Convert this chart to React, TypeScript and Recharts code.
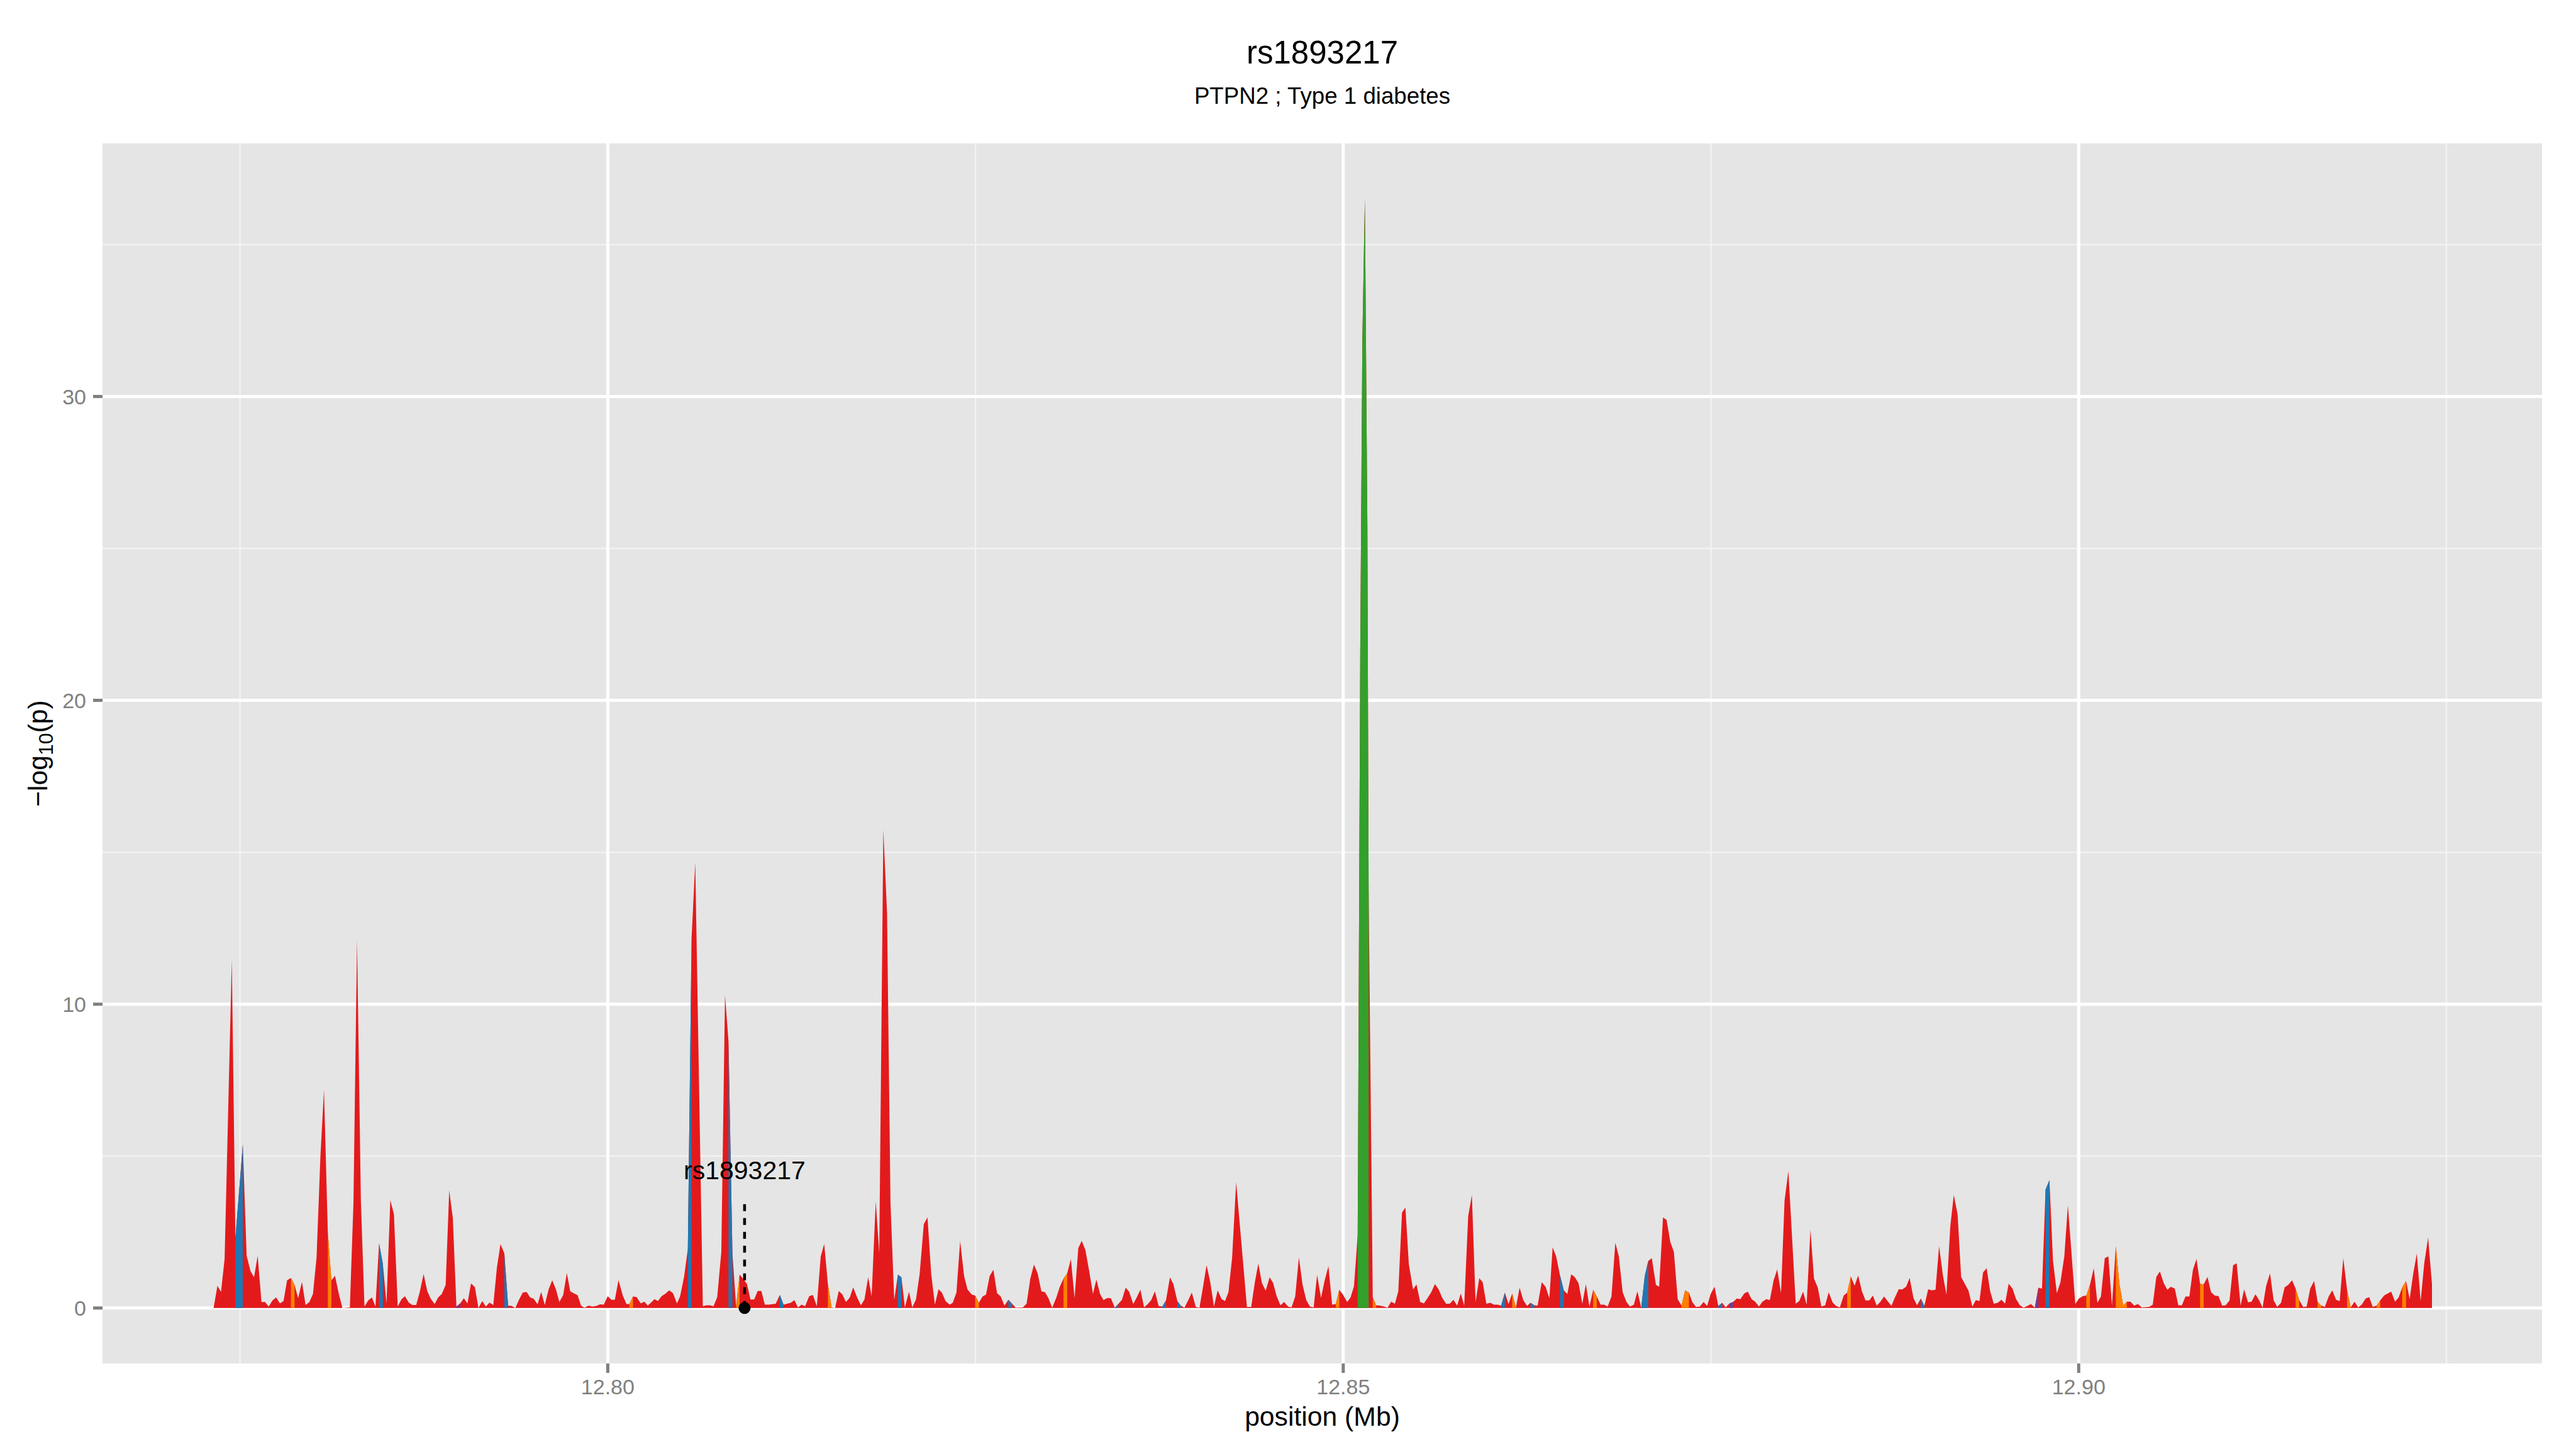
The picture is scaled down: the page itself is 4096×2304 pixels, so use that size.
import React from 'react';
import { ComposedChart, Area, XAxis, YAxis, CartesianGrid, ReferenceLine, ReferenceDot } from 'recharts';

const W = 4096;
const H = 2304;
const FONT = '"Liberation Sans", Arial, Helvetica, sans-serif';

// SNP positions (bp) along chr18
const snpPos = [
  12773202, 12773463, 12773707, 12773951, 12774440, 12774684, 12775188, 12775449, 12775709, 12775954,
  12776198, 12776458, 12776702, 12776947, 12777207, 12777451, 12777712, 12777956, 12778200, 12778461,
  12778705, 12778949, 12779210, 12779454, 12779714, 12779958, 12780203, 12780463, 12780707, 12780968,
  12781212, 12781456, 12781717, 12781961, 12782466, 12782710, 12782954, 12783214, 12783459, 12783719,
  12783963, 12784208, 12784452, 12784712, 12784956, 12785217, 12785461, 12785722, 12785966, 12786210,
  12786470, 12786715, 12786975, 12787219, 12787480, 12787724, 12787968, 12788229, 12788473, 12788717,
  12788978, 12789222, 12789466, 12789710, 12789971, 12790215, 12790459, 12790703, 12790964, 12791208,
  12791468, 12791713, 12791957, 12792217, 12792461, 12792706, 12792966, 12793227, 12793471, 12793715,
  12793976, 12794220, 12794480, 12794724, 12794969, 12795229, 12795473, 12795717, 12795978, 12796222,
  12796466, 12796711, 12796971, 12797216, 12797448, 12797680, 12797950, 12798182, 12798413, 12798703,
  12798954, 12799224, 12799475, 12799726, 12799997, 12800248, 12800480, 12800731, 12801020, 12801271,
  12801464, 12801715, 12801966, 12802237, 12802488, 12802720, 12802926, 12803177, 12803409, 12803660,
  12803891, 12804181, 12804432, 12804702, 12804915, 12805185, 12805444, 12805696, 12805947, 12806463,
  12806701, 12806952, 12807189, 12807441, 12807720, 12807971, 12808208, 12808474, 12808725, 12808962,
  12809214, 12809465, 12809702, 12809953, 12810191, 12810442, 12810679, 12810931, 12811419, 12811698,
  12811950, 12812438, 12812689, 12812927, 12813178, 12813415, 12813694, 12813946, 12814211, 12814476,
  12814714, 12814965, 12815216, 12815454, 12815705, 12815942, 12816194, 12816445, 12816682, 12816961,
  12817212, 12817450, 12817701, 12817939, 12818218, 12818456, 12818735, 12818986, 12819220, 12819474,
  12819725, 12819962, 12820200, 12820479, 12820702, 12820954, 12821205, 12821485, 12821736, 12821987,
  12822238, 12822490, 12822713, 12822964, 12823243, 12823452, 12823704, 12823955, 12824225, 12824456,
  12824746, 12824978, 12825229, 12825480, 12825712, 12825963, 12826214, 12826465, 12826716, 12826967,
  12827237, 12827488, 12827739, 12828222, 12828473, 12828724, 12828975, 12829226, 12829477, 12829728,
  12829960, 12830211, 12830481, 12830732, 12830983, 12831234, 12831485, 12831736, 12831988, 12832219,
  12832470, 12832735, 12832986, 12833218, 12833469, 12833701, 12833952, 12834203, 12834473, 12834705,
  12834956, 12835207, 12835439, 12835728, 12835960, 12836211, 12836462, 12836713, 12836945, 12837196,
  12837447, 12837698, 12837949, 12838219, 12838451, 12838721, 12838953, 12839204, 12839455, 12839706,
  12839976, 12840227, 12840459, 12840710, 12840961, 12841212, 12841463, 12841734, 12841965, 12842197,
  12842448, 12842718, 12843452, 12843742, 12843993, 12844225, 12844476, 12844727, 12844997, 12845229,
  12845480, 12845731, 12845982, 12846252, 12846484, 12846735, 12846986, 12847237, 12847488, 12847739,
  12847990, 12848222, 12848492, 12848724, 12848994, 12849245, 12849496, 12849728, 12849979, 12850269,
  12850500, 12850732, 12850983, 12851155, 12851301, 12851471, 12851642, 12851727, 12852006, 12852238,
  12852489, 12852779, 12853011, 12853262, 12853513, 12853744, 12853995, 12854227, 12854459, 12854749,
  12854980, 12855231, 12855482, 12855733, 12855984, 12856235, 12856487, 12856718, 12856989, 12857240,
  12857491, 12857742, 12857993, 12858224, 12858495, 12858746, 12858997, 12859248, 12859480, 12859731,
  12860001, 12860252, 12860503, 12860735, 12860986, 12861237, 12861488, 12861739, 12861990, 12862241,
  12862494, 12862734, 12862994, 12863214, 12863494, 12863755, 12864015, 12864235, 12864475, 12864735,
  12864995, 12865235, 12865496, 12865736, 12865996, 12866256, 12866496, 12866736, 12866996, 12867237,
  12867497, 12867737, 12867977, 12868237, 12868497, 12868737, 12868998, 12869258, 12869498, 12869758,
  12869998, 12870258, 12870498, 12870738, 12870978, 12871259, 12871479, 12871739, 12871979, 12872239,
  12872479, 12872739, 12872999, 12873239, 12873499, 12873740, 12873980, 12874240, 12874500, 12874740,
  12874980, 12875240, 12875501, 12875761, 12876001, 12876261, 12876501, 12876761, 12877001, 12877262,
  12877502, 12877762, 12878002, 12878262, 12878502, 12878762, 12879002, 12879262, 12879503, 12879763,
  12880003, 12880263, 12880764, 12881004, 12881264, 12881504, 12881764, 12882004, 12882264, 12882505,
  12882765, 12883005, 12883265, 12883505, 12883765, 12884025, 12884265, 12884506, 12884766, 12885006,
  12885266, 12885506, 12885766, 12886006, 12886266, 12886506, 12886766, 12887006, 12887267, 12887507,
  12887767, 12888007, 12888267, 12888507, 12888767, 12889007, 12889267, 12889508, 12889768, 12890008,
  12890268, 12890508, 12890768, 12891008, 12891268, 12891508, 12891768, 12892008, 12892268, 12892508,
  12892769, 12893009, 12893254, 12893497, 12893740, 12893983, 12894226, 12894489, 12894752, 12894995,
  12895238, 12895501, 12895744, 12896007, 12896250, 12896513, 12896756, 12897019, 12897262, 12897505,
  12897747, 12898010, 12898253, 12898516, 12898759, 12899022, 12899265, 12899771, 12900014, 12900277,
  12900520, 12900763, 12901026, 12901269, 12901512, 12901775, 12902018, 12902261, 12902524, 12902767,
  12903030, 12903273, 12903516, 12903779, 12904022, 12904285, 12904791, 12905034, 12905277, 12905519,
  12905783, 12906026, 12906268, 12906532, 12906774, 12907017, 12907260, 12907523, 12907766, 12908009,
  12908252, 12908495, 12908758, 12909001, 12909244, 12909507, 12909750, 12909992, 12910256, 12910499,
  12910742, 12911005, 12911248, 12911510, 12911753, 12912017, 12912259, 12912502, 12912745, 12913008,
  12913251, 12913494, 12913757, 12914000, 12914243, 12914506, 12914749, 12914992, 12915255, 12915498,
  12915741, 12916004, 12916247, 12916490, 12916733, 12916996, 12917238, 12917501, 12917744, 12917987,
  12918250, 12918493, 12918756, 12918999, 12919242, 12919505, 12919748, 12919991, 12920254, 12920497,
  12920760, 12921003, 12921245, 12921508, 12921751, 12921994, 12922257, 12922500, 12922743, 12922986,
  12923249, 12923492, 12923755, 12924017,
];

// -log10(p) at each position
const snpLogP = [
  0, 0.73, 0.53, 1.62, 11.47, 2.3, 5.39, 1.72, 1.22, 1.01,
  1.72, 0.2, 0.2, 0.05, 0.25, 0.35, 0.15, 0.23, 0.91, 0.99,
  0.76, 0.32, 0.86, 0.1, 0.2, 0.46, 1.67, 4.97, 7.18, 2.48,
  0.91, 1.06, 0.46, 0, 0.02, 3.45, 12.11, 3.55, 0.05, 0.25,
  0.35, 0.05, 2.13, 1.44, 0.15, 3.55, 3.09, 0.05, 0.28, 0.39,
  0.18, 0.1, 0.1, 0.53, 1.12, 0.56, 0.3, 0.13, 0.35, 0.46,
  0.76, 3.87, 2.96, 0.05, 0.15, 0.32, 0.15, 0.81, 0.69, 0,
  0.23, 0.05, 0.18, 0.1, 1.32, 2.1, 1.8, 0.08, 0.07, 0,
  0.28, 0.51, 0.53, 0.35, 0.3, 0.12, 0.53, 0.1, 0.61, 0.91,
  0.63, 0.2, 0.43, 1.15, 0.55, 0.49, 0.42, 0.08, 0.01, 0.08,
  0.05, 0.07, 0.12, 0.11, 0.39, 0.27, 0.27, 0.92, 0.41, 0.13,
  0.13, 0.38, 0.36, 0.15, 0.21, 0.08, 0.17, 0.29, 0.23, 0.39,
  0.46, 0.58, 0.49, 0.15, 0.38, 1.02, 1.94, 12.16, 14.66, 0.06,
  0.09, 0.09, 0.06, 0.36, 1.85, 10.3, 8.78, 1.8, 0.06, 1.1,
  0.96, 0.79, 0.28, 0.28, 0.56, 0.56, 0.11, 0.11, 0.14, 0.43,
  0.11, 0.17, 0.26, 0.02, 0.11, 0.06, 0.39, 0.43, 0.06, 1.69,
  2.11, 0.79, 0.02, 0, 0.56, 0.45, 0.2, 0.34, 0.68, 0.34,
  0.09, 0.28, 1.01, 0.39, 3.51, 1.8, 15.74, 13, 3.47, 0.26,
  1.1, 1.01, 0.02, 0.54, 0.02, 0.28, 1.13, 2.76, 2.98, 1.13,
  0.11, 0.62, 0.51, 0.23, 0.11, 0.17, 0.51, 2.2, 1.05, 0.61,
  0.44, 0.41, 0.17, 0.38, 0.44, 1.05, 1.26, 0.49, 0.38, 0.08,
  0.27, 0.14, 0.01, 0.02, 0.14, 0.96, 1.43, 1.14, 0.55, 0.52,
  0.32, 0.01, 0.32, 0.7, 0.97, 1.14, 1.61, 0.32, 1.97, 2.21,
  1.91, 1.2, 0.46, 0.94, 0.46, 0.26, 0.33, 0.32, 0.01, 0.13,
  0.27, 0.67, 0.54, 0.13, 0.35, 0.6, 0.02, 0.13, 0.26, 0.55,
  0.07, 0.05, 0.25, 1.01, 0.79, 0.23, 0.08, 0.01, 0.25, 0.51,
  0.04, 0.01, 0.67, 1.41, 0.85, 0.05, 0.58, 0.29, 0.23, 0.52,
  1.67, 4.14, 0.04, 0.04, 0.85, 1.46, 0.82, 0.57, 1.01, 0.83,
  0.38, 0.09, 0.2, 0.05, 0.02, 0.38, 1.67, 0.76, 0.26, 0.05,
  0.02, 1.09, 0.33, 0.88, 1.38, 0.11, 0.13, 0.6, 0.44, 0.2,
  0.35, 0.72, 2.4, 21.5, 31.9, 36.5, 25.6, 13.7, 0.36, 0.09,
  0.08, 0.05, 0.01, 0.21, 0.14, 0.55, 3.14, 3.31, 1.44, 0.61,
  0.78, 0.2, 0.15, 0.33, 0.52, 0.79, 0.61, 0.35, 0.14, 0.14,
  0.27, 0.08, 0.48, 0.08, 3.02, 3.72, 0.2, 0.98, 0.85, 0.14,
  0.17, 0.11, 0.11, 0.08, 0.51, 0.13, 0.48, 0.01, 0.67, 0.26,
  0.07, 0.17, 0.09, 0.08, 0.85, 0.7, 0.32, 2, 1.7, 1.08,
  0.58, 0.46, 1.11, 1.02, 0.82, 0.14, 0.79, 0.05, 0.6, 0.38,
  0.11, 0.11, 0.05, 0.38, 2.15, 1.7, 0.52, 0.2, 0.05, 0.11,
  0.55, 0.01, 1.05, 1.55, 1.64, 0.76, 0.7, 2.98, 2.9, 2.17,
  1.85, 0.29, 0.08, 0.58, 0.51, 0.19, 0.04, 0.05, 0.2, 0.07,
  0.46, 0.7, 0.07, 0.17, 0.02, 0.15, 0.2, 0.31, 0.29, 0.48,
  0.54, 0.29, 0.21, 0.05, 0.21, 0.29, 0.26, 0.91, 1.27, 0.49,
  3.53, 4.51, 0.14, 0.23, 0.54, 0.11, 2.58, 0.97, 0.67, 0.05,
  0.09, 0.52, 0.19, 0.07, 0.02, 0.41, 0.51, 1.04, 0.73, 1.07,
  0.55, 0.25, 0.25, 0.41, 0.08, 0.2, 0.38, 0.23, 0.07, 0.35,
  0.62, 0.61, 0.7, 0.99, 0.33, 0.09, 0.31, 0.07, 0.62, 0.58,
  0.6, 2.04, 1.08, 0.44, 2.67, 3.72, 3.08, 1.02, 0.79, 0.57,
  0.05, 0.26, 0.23, 1.17, 1.31, 0.55, 0.14, 0.17, 0.27, 0.14,
  0.8, 0.64, 0.29, 0.09, 0.01, 0.07, 0.13, 0.01, 0.67, 0.64,
  3.9, 4.21, 1.55, 0.49, 0.85, 1.7, 3.38, 0.13, 0.31, 0.39,
  0.41, 0.76, 1.31, 0.17, 0.38, 1.64, 1.7, 0.08, 2.04, 0.79,
  0.08, 0.21, 0.21, 0.08, 0.13, 0.02, 0.04, 0.11, 1.02, 1.2,
  0.82, 0.6, 0.7, 0.64, 0.09, 0.09, 0.38, 0.38, 1.26, 1.61,
  0.8, 0.78, 1.02, 0.52, 0.41, 0.39, 0.08, 0.09, 0.25, 1.41,
  1.47, 0.08, 0.61, 0.19, 0.21, 0.45, 0.26, 0.01, 0.73, 1.14,
  0.26, 0.04, 0.17, 0.68, 0.76, 0.91, 0.64, 0.26, 0.04, 0.05,
  0.64, 0.89, 0.2, 0.08, 0.04, 0.38, 0.58, 0.27, 0.23, 1.64,
  0.58, 0.02, 0.21, 0.02, 0.11, 0.31, 0.36, 0.04, 0.08, 0.25,
  0.41, 0.48, 0.54, 0.21, 0.35, 0.68, 0.89, 0.29, 1.13, 1.79,
  0.23, 1.47, 2.32, 0.79,
];

// segments that are not red: each entry is the SNP where the segment starts,
// it runs to the next SNP
const blueStarts = [
  12774684, 12784452, 12792966, 12805444, 12808208, 12811698, 12819725, 12827237, 12834473, 12837698,
  12838721, 12860735, 12862734, 12864735, 12870258, 12870498, 12875501, 12889267, 12897747,
];
const orangeStarts = [
  12778461, 12780968, 12801464, 12808725, 12814965, 12824978, 12830983, 12849496, 12852006, 12861488,
  12866996, 12872999, 12873239, 12884265, 12900520, 12902524, 12902767, 12903030, 12908252, 12914749,
  12916247, 12918250, 12920254, 12921994,
];
const greenStarts = [12850983, 12851155, 12851301, 12851471, 12851642];
const purpleStarts = [12789710, 12876261, 12897019];

const xTicks = [12800000, 12850000, 12900000];
const xMinor = [12775000, 12825000, 12875000, 12925000];
const yTicks = [0, 10, 20, 30];
const yMinor = [5, 15, 25, 35];

const leadSnp = { name: 'rs1893217', pos: 12809300, lineTop: 3.62, labelY: 4.24 };

const RED = '#E31A1C';
const BLUE = '#1F78B4';
const ORANGE = '#FF7F00';
const GREEN = '#33A02C';
const PURPLE = '#6A3D9A';

const inSegment = (starts: number[], i: number) =>
  starts.includes(snpPos[i]) || (i > 0 && starts.includes(snpPos[i - 1]));

const rows = snpPos.map((pos, i) => ({
  pos,
  all: snpLogP[i],
  blue: inSegment(blueStarts, i) ? snpLogP[i] : null,
  orange: inSegment(orangeStarts, i) ? snpLogP[i] : null,
  green: inSegment(greenStarts, i) ? snpLogP[i] : null,
  purple: inSegment(purpleStarts, i) ? snpLogP[i] : null,
}));

const tickText = { fill: '#7F7F7F', fontSize: 34, fontFamily: FONT };

const SnpLabel = (props: any) => {
  const vb = props.viewBox;
  if (!vb) return null;
  return (
    <text
      x={vb.x + vb.width / 2}
      y={vb.y + vb.height / 2}
      textAnchor="middle"
      fontSize={41}
      fontFamily={FONT}
      fill="#000"
    >
      {leadSnp.name}
    </text>
  );
};

export default function App() {
  return (
    <div style={{ position: 'absolute', left: 0, top: 0, width: W, height: H, background: '#fff', fontFamily: FONT }}>
      <ComposedChart width={W} height={H} data={rows} margin={{ top: 228, right: 54, bottom: 56, left: 63 }}>
        <CartesianGrid horizontalValues={yMinor} verticalValues={xMinor} stroke="#F2F2F2" strokeWidth={2.5} fill="#E5E5E5" />
        <CartesianGrid horizontalValues={yTicks} verticalValues={xTicks} stroke="#FFFFFF" strokeWidth={5} />
        <XAxis
          dataKey="pos"
          type="number"
          domain={[12765650, 12931500]}
          allowDataOverflow
          ticks={xTicks}
          interval={0}
          tickFormatter={(v: number) => (v / 1e6).toFixed(2)}
          height={80}
          axisLine={false}
          tickSize={15}
          tickMargin={10}
          tickLine={{ stroke: '#7F7F7F', strokeWidth: 5 }}
          tick={tickText}
        />
        <YAxis
          type="number"
          domain={[-1.825, 38.33]}
          allowDataOverflow
          ticks={yTicks}
          interval={0}
          width={100}
          axisLine={false}
          tickSize={15}
          tickMargin={11}
          tickLine={{ stroke: '#7F7F7F', strokeWidth: 5 }}
          tick={tickText}
        />
        <Area dataKey="all" type="linear" fill={RED} fillOpacity={1} stroke="none" dot={false} activeDot={false} isAnimationActive={false} />
        <Area dataKey="blue" type="linear" fill={BLUE} fillOpacity={1} stroke="none" dot={false} activeDot={false} isAnimationActive={false} />
        <Area dataKey="orange" type="linear" fill={ORANGE} fillOpacity={1} stroke="none" dot={false} activeDot={false} isAnimationActive={false} />
        <Area dataKey="purple" type="linear" fill={PURPLE} fillOpacity={1} stroke="none" dot={false} activeDot={false} isAnimationActive={false} />
        <Area dataKey="green" type="linear" fill={GREEN} fillOpacity={1} stroke="none" dot={false} activeDot={false} isAnimationActive={false} />
        <ReferenceLine
          segment={[{ x: leadSnp.pos, y: 0 }, { x: leadSnp.pos, y: leadSnp.lineTop }]}
          stroke="#000"
          strokeWidth={4.5}
          strokeDasharray="11 11"
        />
        <ReferenceDot x={leadSnp.pos} y={0} r={9.5} fill="#000" stroke="none" />
        <ReferenceDot x={leadSnp.pos} y={leadSnp.labelY} r={0} fill="none" stroke="none" label={{ content: SnpLabel }} />
      </ComposedChart>
      <svg width={W} height={H} style={{ position: 'absolute', left: 0, top: 0, pointerEvents: 'none' }}>
        <text x={2102.5} y={100.7} textAnchor="middle" fontSize={51} fontFamily={FONT} fill="#000">rs1893217</text>
        <text x={2102.5} y={165} textAnchor="middle" fontSize={36.7} fontFamily={FONT} fill="#000">PTPN2 ; Type 1 diabetes</text>
        <text x={2102.5} y={2267} textAnchor="middle" fontSize={42.7} fontFamily={FONT} fill="#000">position (Mb)</text>
        <text x={75} y={1198} transform="rotate(-90 75 1198)" textAnchor="middle" fontSize={42.7} fontFamily={FONT} fill="#000">
          −log<tspan fontSize={32} dy={9}>10</tspan><tspan dy={-9}>(p)</tspan>
        </text>
      </svg>
    </div>
  );
}
